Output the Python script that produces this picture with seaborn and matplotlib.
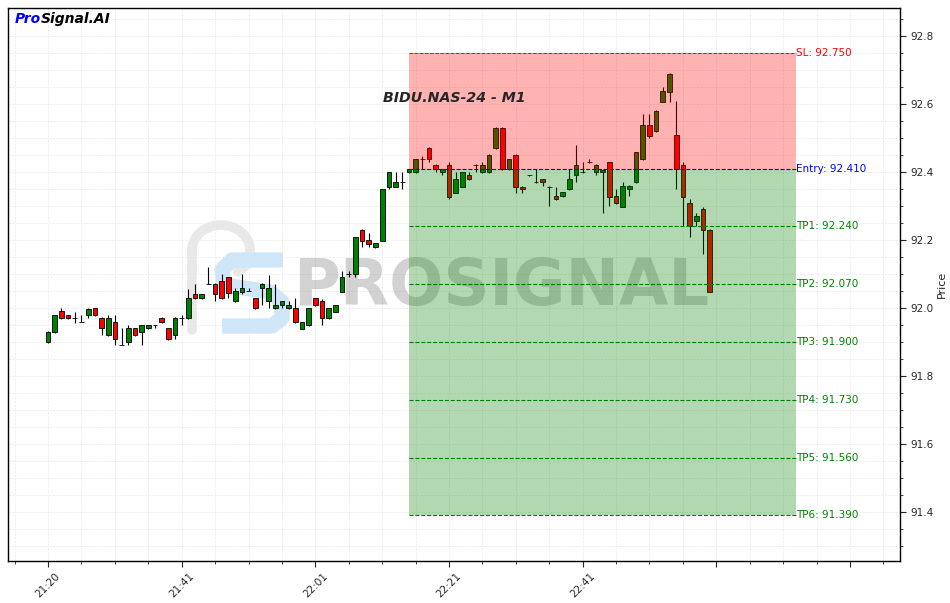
import numpy as np
import pandas as pd
import seaborn as sns
import matplotlib.pyplot as plt
from matplotlib.ticker import MultipleLocator, FixedLocator, FixedFormatter
from matplotlib.patches import Rectangle, Arc
from matplotlib.transforms import Affine2D
from matplotlib.lines import Line2D

# OHLC values (one candle per minute)
opens = [91.899, 91.929, 91.991, 91.978, 91.970, 91.960, 91.978, 91.999, 91.970, 91.920,
         91.959, 91.892, 91.899, 91.940, 91.929, 91.940, 91.949, 91.970, 91.940, 91.920,
         91.970, 91.970, 92.040, 92.028, 92.070, 92.070, 92.079, 92.090, 92.019, 92.048,
         92.050, 92.028, 92.058, 92.019, 91.999, 92.008, 91.999, 91.999, 91.939, 91.949,
         92.028, 92.019, 91.970, 91.989, 92.048, 92.099, 92.100, 92.229, 92.199, 92.178,
         92.198, 92.357, 92.357, 92.370, 92.399, 92.399, 92.437, 92.470, 92.420, 92.399,
         92.420, 92.339, 92.357, 92.390, 92.420, 92.399, 92.399, 92.470, 92.529, 92.408,
         92.450, 92.357, 92.390, 92.370, 92.378, 92.357, 92.329, 92.329, 92.349, 92.390,
         92.399, 92.428, 92.399, 92.405, 92.428, 92.329, 92.298, 92.349, 92.370, 92.437,
         92.538, 92.519, 92.607, 92.636, 92.509, 92.420, 92.308, 92.257, 92.290, 92.229]
highs = [91.932, 91.980, 91.999, 91.980, 91.989, 91.979, 91.999, 92.000, 91.972, 91.979,
         91.978, 91.940, 91.950, 91.942, 91.951, 91.951, 91.950, 91.972, 91.942, 91.972,
         91.978, 92.055, 92.070, 92.042, 92.121, 92.072, 92.100, 92.092, 92.058, 92.099,
         92.058, 92.030, 92.072, 92.097, 92.070, 92.021, 92.019, 92.028, 91.960, 92.001,
         92.030, 92.025, 92.001, 92.010, 92.109, 92.109, 92.210, 92.231, 92.220, 92.192,
         92.351, 92.401, 92.399, 92.399, 92.410, 92.439, 92.447, 92.472, 92.422, 92.410,
         92.428, 92.399, 92.401, 92.399, 92.422, 92.428, 92.452, 92.531, 92.531, 92.439,
         92.452, 92.359, 92.392, 92.408, 92.380, 92.359, 92.357, 92.342, 92.408, 92.479,
         92.428, 92.437, 92.422, 92.408, 92.430, 92.349, 92.370, 92.361, 92.460, 92.571,
         92.571, 92.581, 92.649, 92.690, 92.609, 92.430, 92.320, 92.279, 92.298, 92.231]
lows = [91.897, 91.927, 91.968, 91.968, 91.955, 91.958, 91.970, 91.977, 91.921, 91.918,
        91.891, 91.890, 91.890, 91.918, 91.891, 91.938, 91.940, 91.957, 91.906, 91.908,
        91.950, 91.968, 92.026, 92.026, 92.069, 92.021, 92.026, 92.028, 92.017, 92.040,
        92.049, 91.997, 92.009, 91.999, 91.997, 91.999, 91.997, 91.956, 91.937, 91.947,
        92.006, 91.949, 91.968, 91.987, 92.046, 92.092, 92.090, 92.178, 92.178, 92.176,
        92.196, 92.349, 92.355, 92.349, 92.397, 92.397, 92.408, 92.428, 92.399, 92.390,
        92.320, 92.337, 92.355, 92.376, 92.399, 92.397, 92.397, 92.468, 92.406, 92.406,
        92.339, 92.339, 92.388, 92.368, 92.359, 92.300, 92.318, 92.327, 92.347, 92.371,
        92.397, 92.426, 92.390, 92.279, 92.300, 92.306, 92.296, 92.329, 92.368, 92.435,
        92.499, 92.517, 92.605, 92.607, 92.349, 92.241, 92.208, 92.241, 92.159, 92.046]
closes = [91.930, 91.978, 91.970, 91.970, 91.970, 91.959, 91.998, 91.978, 91.940, 91.970,
          91.908, 91.890, 91.940, 91.920, 91.949, 91.949, 91.949, 91.959, 91.908, 91.970,
          91.970, 92.028, 92.028, 92.040, 92.070, 92.040, 92.028, 92.043, 92.050, 92.058,
          92.050, 91.999, 92.070, 92.058, 92.008, 92.019, 92.008, 91.958, 91.958, 91.999,
          92.008, 91.970, 91.999, 92.008, 92.090, 92.099, 92.208, 92.198, 92.189, 92.190,
          92.349, 92.399, 92.370, 92.370, 92.408, 92.437, 92.437, 92.437, 92.409, 92.408,
          92.327, 92.378, 92.399, 92.378, 92.420, 92.420, 92.450, 92.529, 92.408, 92.437,
          92.357, 92.349, 92.390, 92.370, 92.370, 92.357, 92.320, 92.340, 92.378, 92.420,
          92.399, 92.428, 92.420, 92.400, 92.327, 92.308, 92.359, 92.359, 92.458, 92.538,
          92.507, 92.579, 92.638, 92.688, 92.408, 92.327, 92.241, 92.271, 92.228, 92.048]

tick_labels = ['21:20', '21:41', '22:01', '22:21', '22:41', '', '']
symbol = 'BIDU.NAS-24 - M1'
entry = 92.41
sl = 92.75
tp_levels = [92.24, 92.07, 91.90, 91.73, 91.56, 91.39]
entry_idx = 54
zone_end = 112

df = pd.DataFrame({'Open': opens, 'High': highs, 'Low': lows, 'Close': closes})
df['Up'] = df['Close'] >= df['Open']
df['Bottom'] = df[['Open', 'Close']].min(axis=1)
df['Body'] = (df['Close'] - df['Open']).abs()

sns.set_style('ticks')
fig = plt.figure(figsize=(9.5, 6.03), dpi=100)
ax = fig.add_axes([0.0084, 0.0697, 0.939, 0.917])

# watermark logo, drawn in pixel coords (top-down)
px = Affine2D().scale(1, -1).translate(0, 603)
ax.add_patch(Arc((221, 250), 58, 50, theta1=180, theta2=360, transform=px,
                 color='#e8e8e8', linewidth=7, zorder=1))
ax.add_line(Line2D([192, 192], [250, 330], transform=px, color='#e8e8e8',
                   linewidth=7, solid_capstyle='round', zorder=1))
ax.add_line(Line2D([250, 250, 238], [250, 262, 272], transform=px, color='#e8e8e8',
                   linewidth=7, solid_capstyle='round', zorder=1))
ax.add_line(Line2D([283, 232, 222, 224, 270, 282, 282, 272, 222],
                   [260, 260, 270, 285, 292, 302, 318, 326, 326],
                   transform=px, color='#cfe6f8', linewidth=11,
                   solid_joinstyle='round', solid_capstyle='butt', zorder=1))
ax.text(0.553, 0.495, 'PROSIGNAL', transform=ax.transAxes, fontsize=46, fontweight='bold',
        color='gray', alpha=0.35, ha='center', va='center', zorder=1)

# candles
ax.vlines(df.index, df['Low'], df['High'], color='black', linewidth=0.8, zorder=2)
colors = np.where(df['Up'], 'green', 'red')
ax.bar(df.index, df['Body'], bottom=df['Bottom'], width=0.7, color=colors,
       edgecolor='black', linewidth=0.6, zorder=3)

# trade zones
width = zone_end - entry_idx
ax.add_patch(Rectangle((entry_idx, entry), width, sl - entry, facecolor='red',
                       alpha=0.3, linewidth=0, zorder=4))
ax.add_patch(Rectangle((entry_idx, tp_levels[-1]), width, entry - tp_levels[-1],
                       facecolor='green', alpha=0.3, linewidth=0, zorder=4))

ax.hlines(sl, entry_idx, zone_end, colors='red', linestyles='--', linewidth=0.7, zorder=5)
ax.text(zone_end, sl, f'SL: {sl:.3f}', color='red', fontsize=7.5, va='center', zorder=6)
ax.hlines(entry, entry_idx, zone_end, colors='blue', linestyles='--', linewidth=0.8, zorder=5)
ax.text(zone_end, entry, f'Entry: {entry:.3f}', color='blue', fontsize=7.5, va='center', zorder=6)
for i, tp in enumerate(tp_levels):
    ax.hlines(tp, entry_idx, zone_end, colors='green', linestyles='--', linewidth=0.8, zorder=5)
    ax.text(zone_end, tp, f'TP{i + 1}: {tp:.3f}', color='green', fontsize=7.5,
            va='center', zorder=6)

# titles
ax.text(0.5, 0.838, symbol, transform=ax.transAxes, fontsize=10.2, fontweight='bold',
        fontstyle='italic', ha='center', va='center', zorder=7)
t1 = ax.text(0.008, 0.98, 'Pro', transform=ax.transAxes, fontsize=10, fontweight='bold',
             fontstyle='italic', color='blue', ha='left', va='center', zorder=7)
ax.annotate('Signal.AI', xy=(1, 0), xycoords=t1, fontsize=10, fontweight='bold',
            fontstyle='italic', color='black', ha='left', va='bottom', zorder=7)

# axes
ax.set_xlim(-6, 127.5)
ax.set_ylim(91.256, 92.882)
ax.xaxis.set_major_locator(FixedLocator([0, 20, 40, 60, 80, 100, 120]))
ax.xaxis.set_major_formatter(FixedFormatter(tick_labels))
ax.xaxis.set_minor_locator(MultipleLocator(5))
ax.yaxis.set_major_locator(MultipleLocator(0.2))
ax.yaxis.set_minor_locator(MultipleLocator(0.05))
ax.yaxis.tick_right()
ax.yaxis.set_label_position('right')
ax.set_ylabel('Price', fontsize=8, labelpad=2)
ax.tick_params(axis='both', which='major', labelsize=7.5, length=4, direction='out')
ax.tick_params(axis='both', which='minor', length=2)
plt.setp(ax.get_xticklabels(), rotation=45, ha='center')
ax.grid(True, which='both', color='#dddddd', linestyle='--', linewidth=0.5, alpha=0.6)
for s in ax.spines.values():
    s.set_color('black')
    s.set_linewidth(1)

fig.savefig('out.png', dpi=100)
